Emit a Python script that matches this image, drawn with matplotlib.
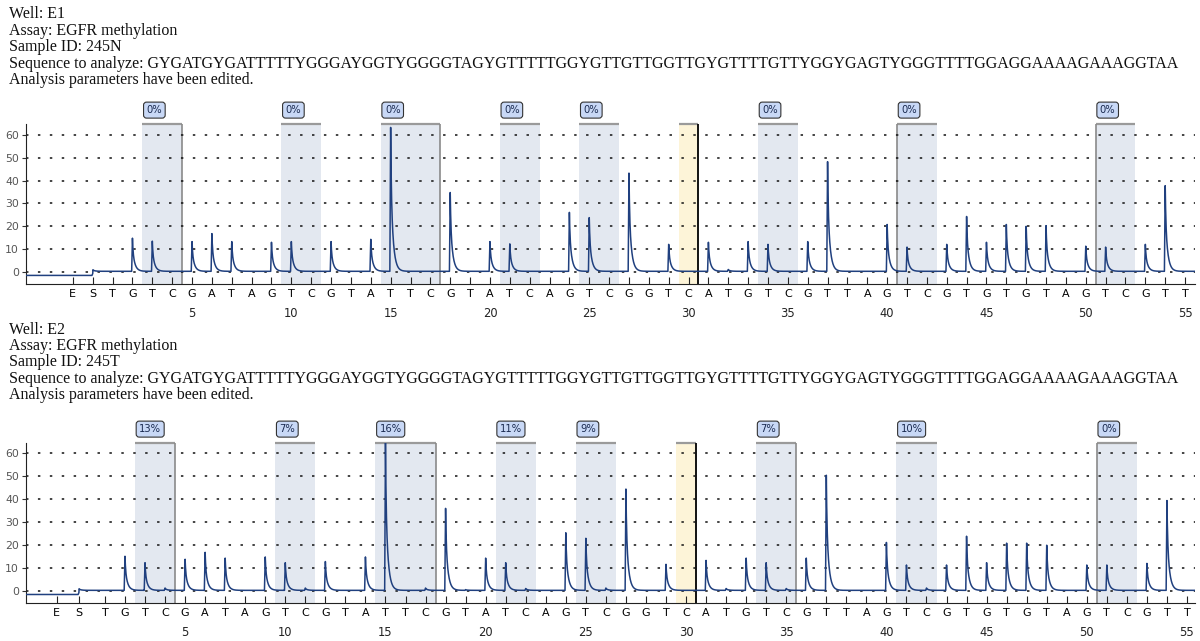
import numpy as np
import matplotlib
matplotlib.use("Agg")
import matplotlib.pyplot as plt

# Dispensation order (E = enzyme, S = substrate, then positions 1..55)
dispensation = list("TGTCGATAGTCGTATTCGTATCAGTCGGTCATGTCGTTAGTCGTGTGTAGTCGTT")

sequence = ("GYGATGYGATTTTTYGGGAYGGTYGGGGTAGYGTTTTTGGYGTTGTTGGTTGYGTTTTGTTYGGYGAG"
            "TYGGGTTTTGGAGGAAAAGAAAGGTAA")

# Peak heights (RLU) for each dispensation, wells E1 and E2
peaks_e1 = [0, 14.5, 13.2, 0, 13, 16.5, 13, 0, 12.7, 13,
            0, 13, 0, 14, 63, 0, 0, 34.5, 0, 13,
            12, 0, 0, 25.8, 23.5, 0, 43, 0, 11.8, 0,
            12.7, 0.8, 13, 11.8, 0, 13, 48, 0, 0, 20.5,
            10.6, 0, 11.8, 24, 12.7, 20.5, 19.7, 20, 0, 11,
            10.6, 0, 11.8, 37.5, 0]
peaks_e2 = [0, 14.8, 12, 1, 13.5, 16.5, 14, 0, 14.5, 12,
            1, 12.5, 0, 14.5, 64, 0, 1, 35.6, 0.3, 14,
            12, 0.8, 0, 25, 22.6, 1, 44, 0, 11.3, 0,
            13, 0.8, 14, 12, 0.8, 14, 50, 0, 0, 20.8,
            11, 1, 11, 23.5, 12, 20.5, 20.5, 19.6, 0, 11,
            11, 0, 11.7, 39, 0]

# CpG sites (first, last dispensation) and methylation levels
cpg_sites = [(3, 4), (10, 11), (15, 17), (21, 22), (25, 26), (34, 35), (41, 42), (51, 52)]
meth_e1 = [0, 0, 0, 0, 0, 0, 0, 0]
meth_e2 = [13, 7, 16, 11, 9, 7, 10, 0]
control_pos = 30  # bisulfite treatment control

wells = [
    dict(well="E1", sample="245N", peaks=peaks_e1, meth=meth_e1,
         es=(-1.0, 0.0), xlim=(-3.36, 55.5),
         borders={0: "r", 2: "r", 6: "l", 7: "l"},
         header_top=0.0, ax_rect=(26, 124, 1195, 284), ylim=(-5.26, 64.8)),
    dict(well="E2", sample="245T", peaks=peaks_e2, meth=meth_e2,
         es=(-1.4, -0.3), xlim=(-2.94, 55.4),
         borders={0: "r", 2: "r", 5: "r", 7: "l"},
         header_top=315.0, ax_rect=(26, 443, 1195, 603), ylim=(-5.2, 64.3)),
]

W, H = 1200, 641
fig = plt.figure(figsize=(W / 100, H / 100), dpi=100)
fig.patch.set_facecolor("white")

shade = "#e3e8f0"
control_shade = "#fdf4d8"
trace_col = "#20407f"
serif = ["Liberation Serif", "DejaVu Serif"]


def peak_shape(dx):
    out = np.zeros_like(dx)
    rise = (dx > -0.04) & (dx < 0)
    out[rise] = (dx[rise] + 0.04) / 0.04
    fall = dx >= 0
    out[fall] = 0.35 * np.exp(-dx[fall] / 0.03) + 0.65 * np.exp(-dx[fall] / 0.12)
    return out


for w in wells:
    x0, y0, x1, y1 = w["ax_rect"]
    ax = fig.add_axes([x0 / W, 1 - y1 / H, (x1 - x0) / W, (y1 - y0) / H])
    ax.set_xlim(*w["xlim"])
    ax.set_ylim(*w["ylim"])
    ax.set_facecolor("none")

    # header block
    lines = [f"Well: {w['well']}", "Assay: EGFR methylation", f"Sample ID: {w['sample']}",
             f"Sequence to analyze: {sequence}", "Analysis parameters have been edited."]
    for i, line in enumerate(lines):
        fig.text(9 / W, 1 - (w["header_top"] + 18.5 + i * 16.4) / H, line,
                 family=serif, fontsize=11.5, va="baseline", ha="left", color="#111111")

    # CpG site shading and labels
    for k, ((a, b), pct) in enumerate(zip(cpg_sites, w["meth"])):
        lo, hi = a - 0.5, b + 0.5
        ax.axvspan(lo, hi, color=shade, lw=0, zorder=0)
        ax.plot([lo, hi], [w["ylim"][1]] * 2, color="#9a9a9a", lw=1.6,
                clip_on=False, zorder=1, solid_capstyle="butt")
        side = w["borders"].get(k)
        if side:
            ax.axvline(hi if side == "r" else lo, color="#8a8a8a", lw=1.2, zorder=1)
        ax.annotate(f"{pct}%", xy=(lo, 1), xycoords=("data", "axes fraction"),
                    xytext=(3.0, 10), textcoords="offset points", ha="left", va="center",
                    fontsize=7.2, color="#1a2a50", family="DejaVu Sans",
                    bbox=dict(boxstyle="round,pad=0.3,rounding_size=0.3",
                              fc="#c8d8f6", ec="#333333", lw=0.8))

    # bisulfite control
    lo, hi = control_pos - 0.5, control_pos + 0.5
    ax.axvspan(lo, hi, color=control_shade, lw=0, zorder=0)
    ax.plot([lo, hi], [w["ylim"][1]] * 2, color="#9a9a9a", lw=1.6,
            clip_on=False, zorder=1, solid_capstyle="butt")
    ax.axvline(hi, color="#111111", lw=1.4, zorder=1)

    # dotted grid
    for yv in range(0, 70, 10):
        ax.plot(w["xlim"], [yv, yv], color="#111111", lw=1.1, dashes=(1.6, 6.2), zorder=2)

    # pyrogram trace
    xs = np.arange(w["xlim"][0], w["xlim"][1], 0.01)
    e_pos, s_pos = w["es"]
    ys = np.where(xs < s_pos, -1.5, 0.3)
    ys = ys + 0.8 * peak_shape(xs - s_pos)
    for p, h in enumerate(w["peaks"], start=1):
        if h > 0:
            ys = ys + h * peak_shape(xs - p)
    ax.plot(xs, ys, color=trace_col, lw=1.1, zorder=3)

    # axes styling
    for s in ("top", "right"):
        ax.spines[s].set_visible(False)
    ax.spines["left"].set_color("#222222")
    ax.spines["bottom"].set_color("#222222")
    ax.set_yticks(range(0, 70, 10))
    ax.tick_params(axis="y", direction="out", length=3, labelsize=7.8,
                   labelcolor="#555555", pad=2, color="#333333")
    positions = [e_pos, s_pos] + list(range(1, 56))
    ax.set_xticks(positions)
    ax.set_xticklabels(["E", "S"] + dispensation)
    ax.tick_params(axis="x", direction="in", length=5, labelsize=8, pad=3.5,
                   color="#222222")
    for n in range(5, 56, 5):
        ax.annotate(str(n), xy=(n, 0), xycoords=("data", "axes fraction"),
                    xytext=(0, -21), textcoords="offset points", ha="center",
                    va="center", fontsize=8.3, color="#222222")

fig.savefig("out.png", dpi=100)
